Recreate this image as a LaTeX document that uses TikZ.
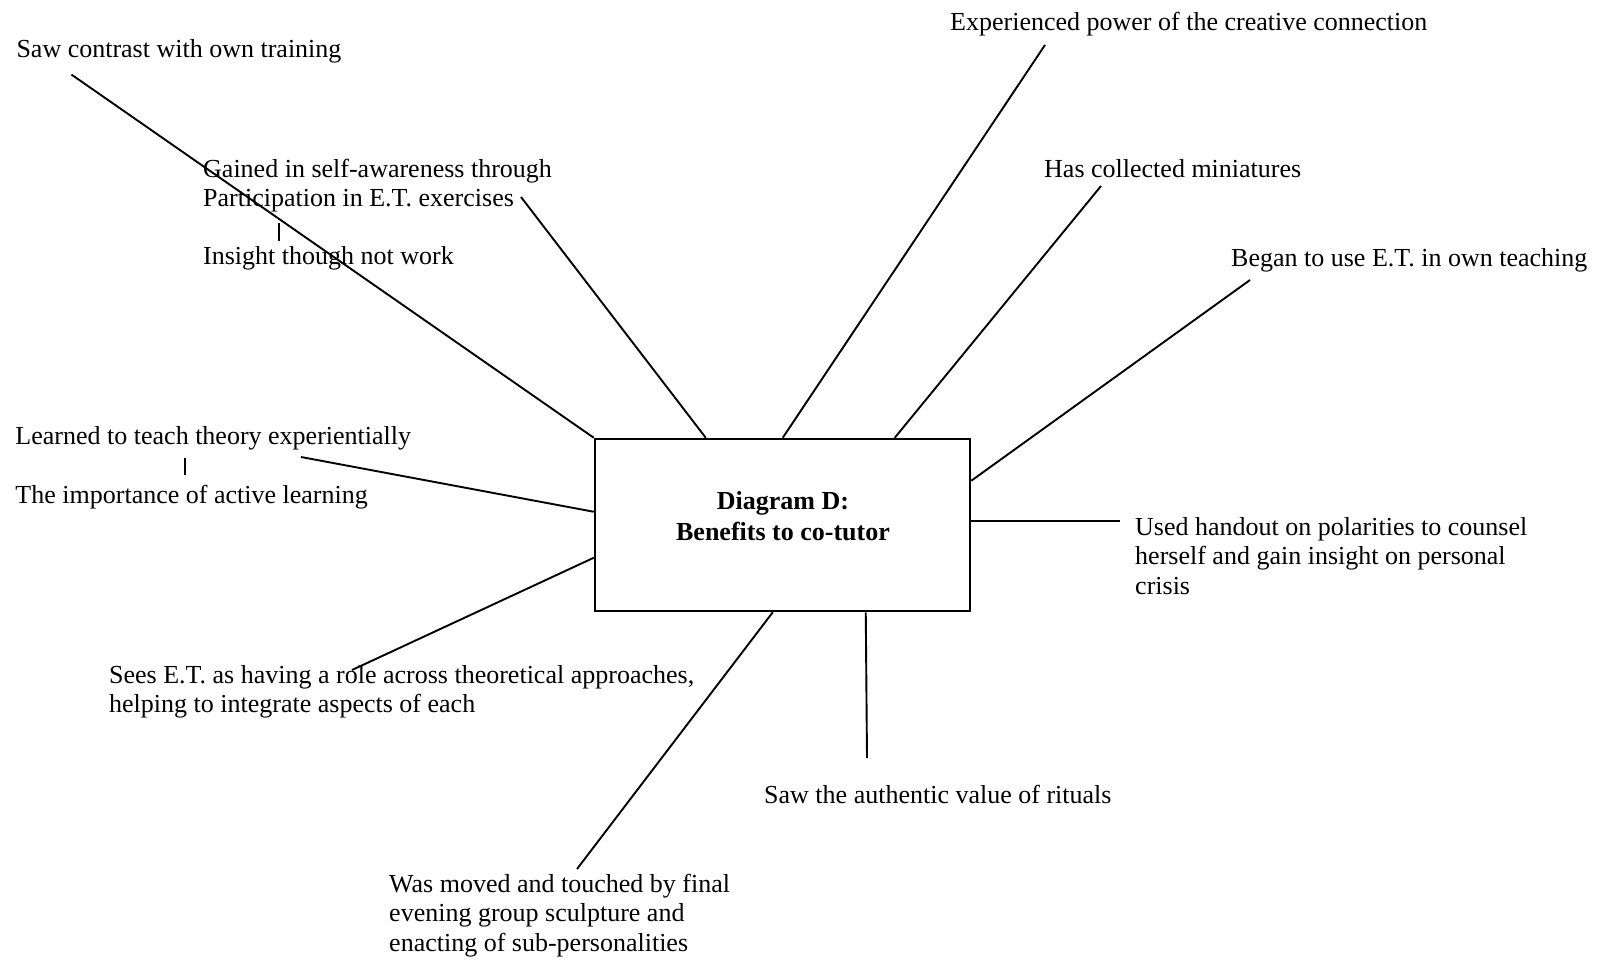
\documentclass[tikz,border=0pt]{standalone}
\usepackage{fontspec}
\setmainfont{Liberation Serif}
\begin{document}
\begin{tikzpicture}[x=1pt,y=-1pt,
  lbl/.style={anchor=base west, inner sep=0pt, font=\fontsize{26}{29.5}\selectfont, align=left},
  conn/.style={line width=1.9pt},
  mainbox/.style={draw, line width=2.5pt, minimum width=375pt, minimum height=172pt, inner sep=0pt},
  titletext/.style={font=\bfseries\fontsize{26}{31}\selectfont, align=center, inner sep=0pt}]
\useasboundingbox (0,0) rectangle (1602,958);

% central box
\node[mainbox] (box) at (782.5,525) {};
\node[titletext] (title) at (783,516) {Diagram D:\\Benefits to co-tutor};

% labels (multi-line nodes: base = last line)
\node[lbl] (t1) at (16.3,57) {Saw contrast with own training};
\node[lbl] (t2) at (203,206.5) {Gained in self-awareness through\\Participation in E.T. exercises};
\node[lbl] (t2b) at (203,264.5) {Insight though not work};
\node[lbl] (t3) at (950,31) {Experienced power of the creative connection};
\node[lbl] (t4) at (1044,177) {Has collected miniatures};
\node[lbl] (t5) at (1231,266.5) {Began to use E.T. in own teaching};
\node[lbl] (t6) at (1135,594) {Used handout on polarities to counsel\\herself and gain insight on personal\\crisis};
\node[lbl] (t7) at (764,803) {Saw the authentic value of rituals};
\node[lbl] (t8) at (389,951) {Was moved and touched by final\\evening group sculpture and\\enacting of sub-personalities};
\node[lbl] (t9) at (109,712.5) {Sees E.T. as having a role across theoretical approaches,\\helping to integrate aspects of each};
\node[lbl] (t10) at (15.3,444) {Learned to teach theory experientially};
\node[lbl] (t10b) at (15.3,503.5) {The importance of active learning};

% connector free ends
\coordinate (e1) at (71.5,74.6);
\coordinate (e2) at (521,197);
\coordinate (e3) at (1045,45);
\coordinate (e4) at (1101,186);
\coordinate (e5) at (1250,280);
\coordinate (e6) at (1120,521);
\coordinate (e7) at (867,758);
\coordinate (e8) at (577,869);
\coordinate (e9) at (352,670);
\coordinate (e10) at (301,457);
\coordinate (k2a) at (279,223);
\coordinate (k2b) at (279,241);
\coordinate (k10a) at (185,458);
\coordinate (k10b) at (185,475);

% connectors
\draw[conn] (e1) -- (box.north west);
\draw[conn] (e2) -- ([xshift=112pt]box.north west);
\draw[conn] (e3) -- ([xshift=189pt]box.north west);
\draw[conn] (e4) -- ([xshift=301pt]box.north west);
\draw[conn] (e5) -- ([yshift=-43pt]box.north east);
\draw[conn] ([yshift=4pt]box.east) -- (e6);
\draw[conn] ([xshift=272pt]box.south west) -- (e7);
\draw[conn] ([xshift=179pt]box.south west) -- (e8);
\draw[conn] ([yshift=-120pt]box.north west) -- (e9);
\draw[conn] ([yshift=-74pt]box.north west) -- (e10);
\draw[conn] (k2a) -- (k2b);
\draw[conn] (k10a) -- (k10b);
\end{tikzpicture}
\end{document}
